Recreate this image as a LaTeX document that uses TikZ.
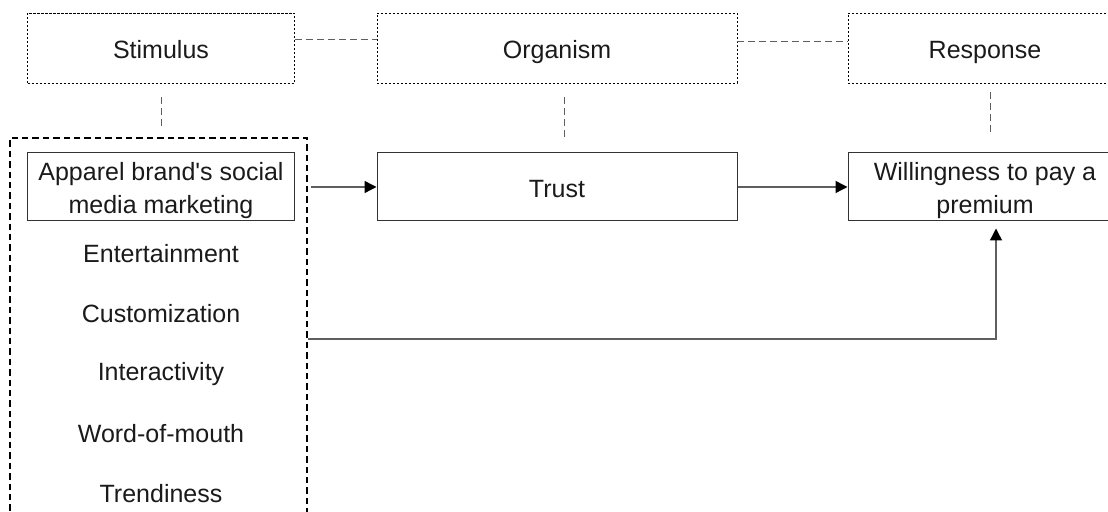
\documentclass[tikz,border=0pt]{standalone}
\usepackage{fontspec}
\setmainfont{Liberation Sans}
\usepackage{tikz}
\usetikzlibrary{arrows.meta, positioning}

\definecolor{textgray}{HTML}{1A1A1A}
\definecolor{linegray}{HTML}{5F5F5F}

\begin{document}
\begin{tikzpicture}[
            x = 0.5pt, y = -0.5pt, % one unit is one pixel of the sketch
            > = {Triangle[length=6pt, width=6pt, color=black]}, % arrow head style
            node distance = 30pt, % distance between the dimensions
            font = \fontsize{12.5}{16.5}\selectfont,
            text = textgray
        ]

        \tikzstyle{header}=[
            draw = black,
            line width = 0.4pt,
            dash pattern = on 1.2pt off 0.8pt,
            minimum width = 133.5pt,
            minimum height = 35pt,
            text height = 11pt,
            text depth = 0pt
        ]
        \tikzstyle{block}=[
            draw = black!80,
            line width = 0.5pt,
            minimum height = 34pt,
            align = center,
            inner sep = 1pt,
            text height = 11pt,
            text depth = 0pt
        ]
        \tikzstyle{twolines}=[
            text height = 27pt,
            text depth = 0pt
        ]
        \tikzstyle{group}=[
            draw = black,
            line width = 0.9pt,
            dash pattern = on 3.2pt off 2pt,
            minimum width = 148.5pt,
            minimum height = 201pt
        ]
        \tikzstyle{link}=[
            draw = linegray,
            line width = 0.5pt,
            dash pattern = on 3.5pt off 2pt
        ]
        \tikzstyle{flow}=[
            draw = linegray,
            line width = 0.7pt
        ]

        \useasboundingbox (0,0) rectangle (1108,512);

        % S - O - R headings
        \node[header] (stim) at (161,48) {Stimulus};
        \node[header, minimum width=180pt] (org) at (557,48) {Organism};
        \node[header, minimum width=137pt] (resp) at (985,48) {Response};

        \draw[link] ([yshift=4pt]stim.east) -- ([yshift=4pt]org.west);
        \draw[link] ([yshift=3pt]org.east) -- ([yshift=3pt]resp.west);

        \draw[link] ([yshift=-7pt]stim.south) -- ++(0,30);
        \draw[link] ([xshift=3.5pt, yshift=-7pt]org.south) -- ++(0,40);
        \draw[link] ([xshift=2.5pt, yshift=-4.5pt]resp.south) -- ++(0,40);

        % constructs
        \node[group] (smm) at (158.5,339) {};
        \node[block, twolines, minimum width=133.5pt] (apparel) at (161,187)
            {Apparel brand\textquotesingle s social\\media marketing};
        \node[block, minimum width=180pt] (trust) at (557,187) {Trust};
        \node[block, twolines, minimum width=137pt] (wtp) at (985,187)
            {Willingness to pay a\\premium};

        % dimensions
        \node (ent) at (161,254) {Entertainment};
        \node (cus) [below of=ent] {Customization};
        \node (int) [below of=cus] {Interactivity};
        \node (wom) [below of=int] {Word-of-mouth};
        \node (tre) [below of=wom] {Trendiness};

        \draw[flow, ->] ([xshift=1.5pt]smm.east |- apparel) -- (trust.west);
        \draw[flow, ->] (trust.east) -- (wtp.west);
        \draw[flow, ->] (smm.east) -| ([xshift=5.5pt, yshift=-3.5pt]wtp.south);

\end{tikzpicture}
\end{document}
